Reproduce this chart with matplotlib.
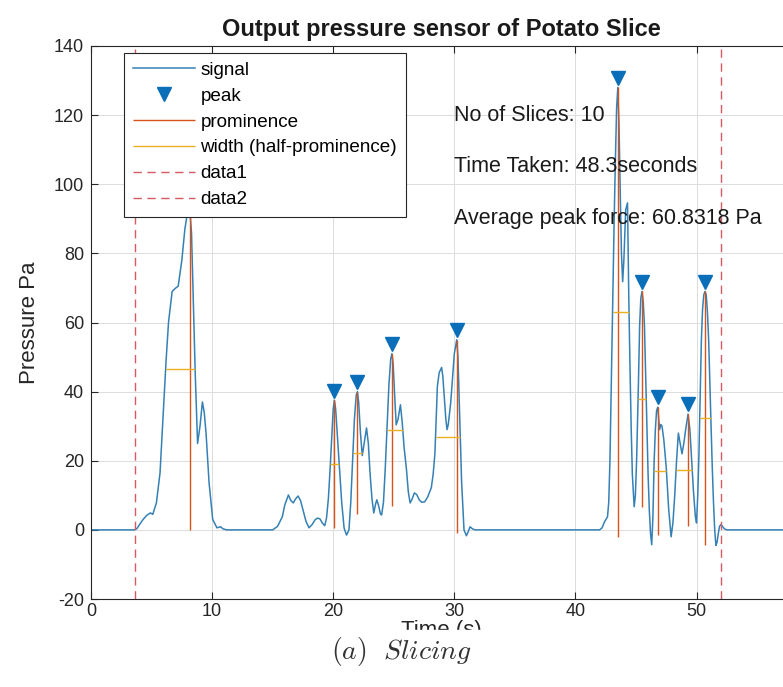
import matplotlib
matplotlib.use("Agg")
import matplotlib.pyplot as plt
from matplotlib.patches import Rectangle
from matplotlib.transforms import ScaledTranslation

# Шрифти як у MATLAB (Helvetica/Arial)
plt.rcParams['font.family'] = ['Liberation Sans', 'DejaVu Sans']
plt.rcParams['mathtext.fontset'] = 'cm'
plt.rcParams['axes.unicode_minus'] = False

# Сигнал датчика тиску (час, с / тиск, Па)
time_s = [
    0, 3.6, 3.8, 4.0, 4.3, 4.6, 4.9, 5.1, 5.4, 5.7, 5.95, 6.2, 6.4, 6.7, 7.0, 7.2,
    7.5, 7.75, 8.0, 8.15, 8.3, 8.45, 8.6, 8.8, 9.0, 9.2, 9.35, 9.5, 9.75, 10.05,
    10.4, 10.7, 10.9, 11.2,
    15.0, 15.4, 15.8, 16.0, 16.3, 16.5, 16.7, 16.9, 17.1, 17.3, 17.5, 17.75, 18.0,
    18.25, 18.5, 18.7, 18.9, 19.1, 19.3, 19.45, 19.6, 19.75, 19.9, 20.0, 20.1, 20.2,
    20.35, 20.5, 20.7, 20.9, 21.1, 21.3, 21.45, 21.6, 21.75, 21.9, 22.0, 22.1, 22.25,
    22.4, 22.55, 22.75, 22.9, 23.05, 23.2, 23.35, 23.5, 23.6, 23.75, 23.9, 24.0,
    24.15, 24.3, 24.45, 24.6, 24.75, 24.85, 24.95, 25.1, 25.2, 25.35, 25.55, 25.7,
    25.85, 26.05, 26.2, 26.35, 26.5, 26.7, 26.9, 27.1, 27.3, 27.55, 27.8, 28.1,
    28.25, 28.4, 28.5, 28.6, 28.75, 28.95, 29.05, 29.15, 29.3, 29.4, 29.5, 29.7,
    29.85, 30.0, 30.2, 30.3, 30.45, 30.6, 30.8, 31.0, 31.15, 31.3, 31.5, 31.7,
    42.0, 42.2, 42.4, 42.65, 42.75, 42.85, 42.95, 43.1, 43.2, 43.3, 43.4, 43.5,
    43.6, 43.7, 43.8, 43.9, 44.0, 44.15, 44.3, 44.4, 44.5, 44.6, 44.7, 44.85, 44.95,
    45.05, 45.2, 45.3, 45.4, 45.5, 45.6, 45.7, 45.8, 45.9, 46.0, 46.1, 46.2, 46.3,
    46.4, 46.5, 46.6, 46.7, 46.8, 46.88, 46.95, 47.05, 47.15, 47.3, 47.5, 47.7, 47.9,
    48.05, 48.2, 48.35, 48.5, 48.65, 48.8, 48.95, 49.1, 49.3, 49.45, 49.6, 49.75,
    49.9, 50.0, 50.1, 50.2, 50.3, 50.4, 50.5, 50.6, 50.7, 50.8, 50.9, 51.0, 51.1,
    51.2, 51.3, 51.4, 51.5, 51.6, 51.7, 51.8, 51.9, 52.0, 52.1, 52.3, 52.5, 57.8,
]
pressure_pa = [
    0, 0, 0.4, 1.5, 3.0, 4.2, 4.9, 4.5, 7.8, 16.5, 32.7, 49, 60, 69, 70, 70.5,
    78, 87, 92.5, 93, 86, 66, 46, 25, 30, 37, 34, 28, 13.6, 3,
    0.6, 0.9, 0.3, 0,
    0, 1.0, 3.8, 7.2, 10.1, 8.5, 7.8, 9.0, 9.8, 8.5, 5.8, 2.5, 0.6,
    1.5, 2.9, 3.4, 3.2, 2.0, 1.2, 3.5, 9, 18, 28, 35, 37.5, 35,
    27, 19, 8, 0.5, -1.5, 0, 8, 20, 32, 39, 40, 37, 28,
    21.5, 25, 29.5, 25, 16, 9, 4.9, 7.5, 8.7, 7, 4.6, 4.3,
    8, 18, 30, 42, 49.5, 51, 48, 37, 30.4, 32, 36.2, 31,
    24, 17.4, 11, 7.8, 8.8, 10.7, 10.2, 8.7, 8.0, 8.1, 9.5, 12.2,
    16, 22.3, 32, 41.5, 45.5, 47, 44.5, 39.6, 32, 29, 30.5, 36.7,
    44, 51, 55, 50, 31.8, 14, 0, -1.7, -0.5, 0.9, 0.3, 0,
    0, 0.6, 2.3, 3.8, 8, 20, 40, 68.6, 90, 107, 122, 128,
    117, 97.5, 80, 71.8, 78, 92.6, 94.6, 68.6, 48, 30, 16, 6.7, 10,
    20, 42, 59, 67, 69, 66, 59, 45, 30, 16, 5.8, -1, -4.3,
    4, 20, 29, 34.5, 35.5, 32, 29, 30.5, 30, 26, 18, 6, -2,
    2, 10, 20, 28, 25, 22, 25, 29, 33.5, 29, 20, 11,
    4, 2, 10, 22, 38, 55, 64, 68, 69, 68, 63, 55, 42,
    30, 18, 8, 0, -4.5, -3.5, -1, 1, 1.5, 1.2, 0.3, 0, 0,
]

# Піки (findpeaks)
peak_time = [8.15, 20.1, 22.0, 24.85, 30.2, 43.5, 45.5, 46.8, 49.3, 50.7]
peak_value = [93, 37.5, 40, 51, 55, 128, 69, 35.5, 33.5, 69]
prom_base = [0, 0.5, 4.5, 7, -1, -2, 6.5, -1.5, 1, -4.5]
width_left = [6.2, 19.75, 21.62, 24.45, 28.5, 43.07, 45.17, 46.47, 48.3, 50.3]
width_right = [8.6, 20.45, 22.38, 25.75, 30.5, 44.45, 45.82, 47.5, 49.65, 51.2]

# Межі нарізки
slice_start = 3.6
slice_end = 52.0

info_lines = ['No of Slices: 10', 'Time Taken: 48.3seconds', 'Average peak force: 60.8318 Pa']
info_y = [120, 105, 90]

fig = plt.figure(figsize=(7.83, 6.87), dpi=100)
ax = fig.add_axes([91 / 783, 1 - 599 / 687, 700 / 783, 553 / 687])

ax.plot(time_s, pressure_pa, color='#3580b4', lw=1.1, label='signal')
marker_shift = ax.transData + ScaledTranslation(0, 7 / 72, fig.dpi_scale_trans)
ax.plot(peak_time, peak_value, 'v', ms=10, color='#0a6fb8', ls='none',
        transform=marker_shift, label='peak')
ax.vlines(peak_time, prom_base, peak_value, color='#D95319', lw=1, label='prominence')
half_height = [p - (p - b) / 2 for p, b in zip(peak_value, prom_base)]
ax.hlines(half_height, width_left, width_right, color='#EDB120', lw=1,
          label='width (half-prominence)')
ax.axvline(slice_start, color='#d65a62', lw=1, ls=(0, (6, 4)), label='data1')
ax.axvline(slice_end, color='#d65a62', lw=1, ls=(0, (6, 4)), label='data2')

for txt, y in zip(info_lines, info_y):
    ax.text(30.0, y, txt, fontsize=15.5, va='center', color='#1a1a1a')

ax.set_xlim(0, 57.8)
ax.set_ylim(-20, 140)
ax.set_xticks(range(0, 60, 10))
ax.set_yticks(range(-20, 160, 20))
ax.grid(True, color='#dcdcdc', lw=0.7)
ax.tick_params(direction='in', length=5, top=True, right=True, labelsize=13,
               colors='#262626', pad=5)
ax.tick_params(axis='x', pad=3)
for s in ax.spines.values():
    s.set_color('#262626')
    s.set_linewidth(0.8)

ax.set_title('Output pressure sensor of Potato Slice', fontsize=17,
             fontweight='bold', pad=7, color='#1a1a1a')
ax.set_ylabel('Pressure Pa', fontsize=16, labelpad=10, color='#262626')
ax.set_xlabel('Time (s)', fontsize=16, labelpad=0, color='#262626')

leg = ax.legend(loc='upper left', bbox_to_anchor=(124 / 783, 1 - 53 / 687),
                bbox_transform=fig.transFigure, fancybox=False, framealpha=1,
                edgecolor='#262626', fontsize=13.6, handlelength=3.3,
                handletextpad=0.3, labelspacing=0.46, borderpad=0.45,
                borderaxespad=0)
leg.get_frame().set_linewidth(0.8)

# Підпис рисунка перекриває низ осі x
fig.add_artist(Rectangle((0, 0), 1, (687 - 630) / 687, transform=fig.transFigure,
                         color='white', zorder=10))
fig.text(401 / 783, 1 - 651 / 687, r'$(a)\ \ Slicing$', fontsize=20,
         ha='center', va='center', color='#333333', zorder=11)

fig.savefig('out.png', dpi=100)
